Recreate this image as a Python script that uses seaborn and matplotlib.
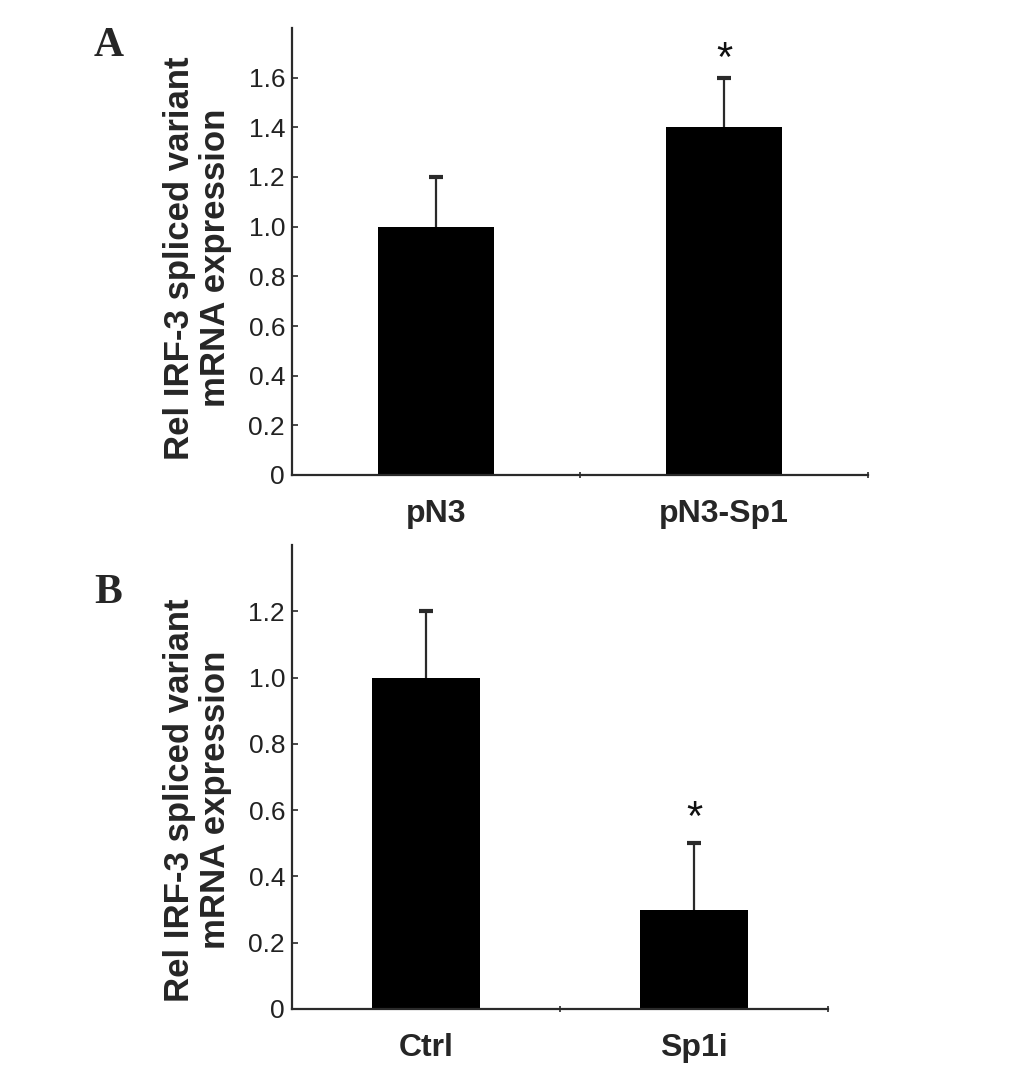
import matplotlib
matplotlib.use("Agg")
import matplotlib.pyplot as plt
import seaborn as sns
import pandas as pd

# Panel A data
cats_a = ["pN3", "pN3-Sp1"]
vals_a = [1.0, 1.4]
errs_a = [0.2, 0.2]
sig_a = [False, True]

# Panel B data
cats_b = ["Ctrl", "Sp1i"]
vals_b = [1.0, 0.3]
errs_b = [0.2, 0.2]
sig_b = [False, True]

ylabel = "Rel IRF-3 spliced variant\nmRNA expression"

sns.set_theme(style="white")
plt.rcParams['font.family'] = ['Liberation Sans', 'DejaVu Sans']

fig = plt.figure(figsize=(10.33, 10.71), dpi=100)

line_col = "#2a2a2a"


def draw_panel(rect, cats, vals, errs, sig, ymax, yticks, letter, letter_xy,
               label_xy, star_off):
    ax = fig.add_axes(rect)
    df = pd.DataFrame({"group": cats, "value": vals})
    sns.barplot(data=df, x="group", y="value", ax=ax, color="black",
                saturation=1, width=0.4, errorbar=None, edgecolor="black", linewidth=0)
    eb = ax.errorbar(range(len(cats)), vals, yerr=[[0] * len(errs), errs], fmt="none",
                     ecolor=line_col, elinewidth=1.6, capsize=5, capthick=3, zorder=3)
    # one-sided error bars: hide the lower caps
    eb[1][0].set_visible(False)
    for i, (v, e, s) in enumerate(zip(vals, errs, sig)):
        if s:
            ax.annotate("*", (i, v + e), xytext=(0, star_off), textcoords="offset points",
                        ha="center", va="baseline", fontsize=30, color="#111111")
    ax.set_xlim(-0.5, len(cats) - 0.5)
    ax.set_ylim(0, ymax)
    ax.set_yticks(yticks)
    ax.set_yticklabels(["0" if t == 0 else f"{t:.1f}" for t in yticks])
    ax.set_xlabel("")
    ax.set_ylabel(ylabel, fontsize=25, fontweight="bold", linespacing=1.1, va="center")
    ax.yaxis.set_label_coords(*label_xy)
    for sp in ["top", "right"]:
        ax.spines[sp].set_visible(False)
    for sp in ["left", "bottom"]:
        ax.spines[sp].set_color(line_col)
        ax.spines[sp].set_linewidth(1.6)
    ax.tick_params(axis="y", direction="in", length=4, width=1.2, color=line_col,
                   labelsize=19, labelcolor="#222222", pad=5, left=True)
    ax.tick_params(axis="x", which="major", length=0, labelsize=23, pad=17)
    for lab in ax.get_xticklabels():
        lab.set_fontweight("bold")
    ax.set_xticks([0.5, 1.5], minor=True)
    ax.tick_params(axis="x", which="minor", direction="inout", length=5, width=1.2,
                   color=line_col, bottom=True)
    fig.text(letter_xy[0], letter_xy[1], letter, fontsize=30, fontweight="bold",
             family=["Liberation Serif", "DejaVu Serif"], ha="center", va="center")
    return ax


draw_panel([292 / 1033, 1 - 475 / 1071, 576 / 1033, 447 / 1071], cats_a, vals_a, errs_a, sig_a,
           1.8, [0, 0.2, 0.4, 0.6, 0.8, 1.0, 1.2, 1.4, 1.6], "A",
           (109 / 1033, 1 - 46 / 1071), (-0.164, 0.485), 4.5)
draw_panel([292 / 1033, 1 - 1009 / 1071, 536 / 1033, 464 / 1071], cats_b, vals_b, errs_b, sig_b,
           1.4, [0, 0.2, 0.4, 0.6, 0.8, 1.0, 1.2], "B",
           (108 / 1033, 1 - 593 / 1071), (-0.176, 0.45), 9.5)

fig.savefig("out.png", dpi=100, facecolor="white")
